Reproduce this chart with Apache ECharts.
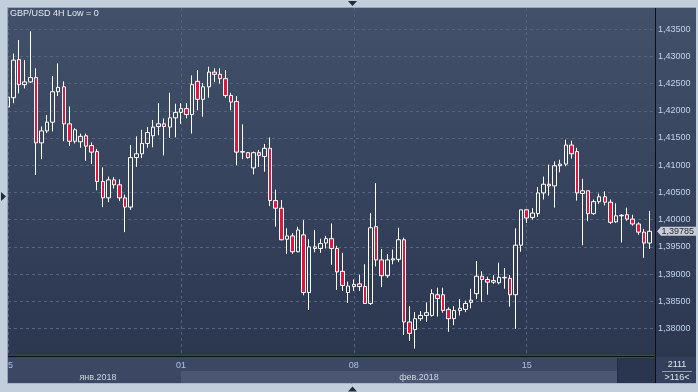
<!DOCTYPE html>
<html><head><meta charset="utf-8">
<script src="https://cdn.jsdelivr.net/npm/echarts@6/dist/echarts.min.js"></script>
<style>html,body{margin:0;padding:0;background:#c3cedc}#c{width:698px;height:392px}</style>
</head><body><div id="c"></div>
<script>
const chartTitle = 'GBP/USD 4H Low = 0';
const open = [1.4207,1.4224,1.4294,1.4248,1.4253,1.4261,1.4141,1.4163,1.4179,1.4235,
1.4244,1.4176,1.4144,1.4143,1.4154,1.4136,1.4125,1.4070,1.4040,1.4073,
1.4064,1.4040,1.4023,1.4114,1.4121,1.4140,1.4154,1.4171,1.4176,1.4170,
1.4187,1.4197,1.4204,1.4193,1.4254,1.4221,1.4244,1.4271,1.4267,1.4259,
1.4228,1.4217,1.4124,1.4123,1.4095,1.4123,1.4116,1.4131,1.4035,1.4021,
1.3964,1.3970,1.3941,1.3972,1.3866,1.3947,1.3947,1.3957,1.3965,1.3947,
1.3905,1.3866,1.3877,1.3882,1.3877,1.3846,1.3987,1.3926,1.3897,1.3926,
1.3927,1.3963,1.3812,1.3798,1.3818,1.3824,1.3824,1.3862,1.3862,1.3835,
1.3818,1.3833,1.3835,1.3848,1.3864,1.3896,1.3890,1.3885,1.3884,1.3893,
1.3892,1.3862,1.3953,1.4018,1.4004,1.4011,1.4049,1.4065,1.4062,1.4099,
1.4102,1.4137,1.4125,1.4048,1.4053,1.4011,1.4033,1.4042,1.4032,1.3996,
1.4007,1.4009,1.4001,1.3992,1.3977,1.3957];
const close = [1.4225,1.4293,1.4248,1.4253,1.4261,1.4141,1.4163,1.4179,1.4235,1.4243,
1.4176,1.4144,1.4165,1.4153,1.4135,1.4124,1.4070,1.4040,1.4073,1.4064,
1.4040,1.4023,1.4114,1.4121,1.4140,1.4160,1.4170,1.4176,1.4171,1.4187,
1.4197,1.4204,1.4193,1.4248,1.4221,1.4244,1.4271,1.4267,1.4259,1.4228,
1.4216,1.4124,1.4125,1.4114,1.4123,1.4118,1.4131,1.4035,1.4021,1.3963,
1.3970,1.3941,1.3981,1.3866,1.3950,1.3950,1.3956,1.3965,1.3947,1.3904,
1.3879,1.3878,1.3881,1.3877,1.3846,1.3985,1.3926,1.3897,1.3926,1.3928,
1.3963,1.3812,1.3791,1.3818,1.3824,1.3829,1.3864,1.3855,1.3833,1.3818,
1.3833,1.3837,1.3846,1.3852,1.3896,1.3890,1.3885,1.3888,1.3894,1.3894,
1.3862,1.3953,1.4018,1.4003,1.4012,1.4049,1.4065,1.4062,1.4099,1.4102,
1.4137,1.4121,1.4049,1.4053,1.4011,1.4033,1.4042,1.4032,1.3995,1.4007,
1.4008,1.4001,1.3992,1.3977,1.3957,1.39785];
const low = [1.4204,1.4214,1.4232,1.4241,1.4251,1.4082,1.4111,1.4159,1.4162,1.4227,
1.4144,1.4135,1.4140,1.4132,1.4108,1.4102,1.4054,1.4023,1.4032,1.4057,
1.4034,1.3977,1.4018,1.4097,1.4113,1.4132,1.4133,1.4155,1.4118,1.4150,
1.4151,1.4176,1.4186,1.4158,1.4201,1.4189,1.4224,1.4253,1.4250,1.4224,
1.4201,1.4100,1.4111,1.4112,1.4083,1.4097,1.4088,1.4025,1.3987,1.3962,
1.3937,1.3937,1.3940,1.3861,1.3834,1.3940,1.3939,1.3947,1.3917,1.3871,
1.3869,1.3847,1.3869,1.3869,1.3845,1.3843,1.3914,1.3876,1.3893,1.3918,
1.3922,1.3788,1.3777,1.3763,1.3814,1.3812,1.3822,1.3822,1.3829,1.3794,
1.3806,1.3824,1.3830,1.3837,1.3854,1.3849,1.3862,1.3882,1.3881,1.3873,
1.3840,1.3799,1.3941,1.3994,1.4000,1.4005,1.4037,1.4044,1.4022,1.4087,
1.4098,1.4112,1.4035,1.3953,1.3997,1.4009,1.4029,1.4026,1.3992,1.3994,
1.3958,1.3998,1.3989,1.3972,1.3930,1.3946];
const high = [1.4227,1.4305,1.4330,1.4293,1.4346,1.4278,1.4171,1.4192,1.4264,1.4287,
1.4254,1.4208,1.4168,1.4158,1.4158,1.4142,1.4130,1.4096,1.4079,1.4078,
1.4074,1.4046,1.4137,1.4153,1.4165,1.4170,1.4183,1.4214,1.4186,1.4233,
1.4213,1.4214,1.4214,1.4265,1.4275,1.4251,1.4281,1.4278,1.4278,1.4275,
1.4233,1.4227,1.4175,1.4124,1.4125,1.4128,1.4139,1.4151,1.4055,1.4036,
1.3984,1.3975,1.3987,1.3999,1.3964,1.3981,1.3965,1.3970,1.3993,1.3952,
1.3939,1.3886,1.3890,1.3899,1.3918,1.4012,1.4067,1.3946,1.3937,1.3945,
1.3985,1.3967,1.3841,1.3830,1.3832,1.3848,1.3872,1.3875,1.3875,1.3839,
1.3841,1.3854,1.3851,1.3873,1.3924,1.3905,1.3895,1.3898,1.3921,1.3911,
1.3898,1.3984,1.4018,1.4019,1.4021,1.4060,1.4079,1.4101,1.4107,1.4110,
1.4147,1.4145,1.4132,1.4075,1.4053,1.4037,1.4048,1.4052,1.4037,1.4030,
1.4010,1.4022,1.4009,1.3995,1.3983,1.4016];
// x tick labels (bar index -> label); one empty slot after the last bar
const tickLabels = {0: '25', 31: '01', 62: '08', 93: '15'};
const monthLabels = ['янв.2018', 'фев.2018'];
const cornerLabels = ['2111', '>116<'];

const categories = open.map((_, i) => String(i)).concat(['']);
const ohlc = open.map((o, i) => [o, close[i], low[i], high[i]]);
const fmt = v => v.toFixed(5).replace('.', ',');
const FONT = '"Liberation Sans", Arial, sans-serif';

const chart = echarts.init(document.getElementById('c'), null, {renderer: 'canvas'});
chart.setOption({
  animation: false,
  backgroundColor: {type: 'linear', x: 0, y: 0, x2: 0, y2: 1,
    colorStops: [{offset: 0, color: '#43516b'}, {offset: 1, color: '#29344d'}]},
  textStyle: {fontFamily: FONT},
  grid: {left: 8, right: 43, top: 1.9, bottom: 36.3, containLabel: false},
  xAxis: [{
    type: 'category', data: categories, boundaryGap: false, z: 1,
    axisLine: {show: false}, axisTick: {show: false}, axisLabel: {show: false},
    splitLine: {show: true, interval: (i) => (i in tickLabels),
      lineStyle: {color: '#56647f', width: 1, type: [3, 3]}}
  }, {
    type: 'category', data: categories, boundaryGap: false, position: 'bottom', z: 50,
    axisLine: {show: false}, axisTick: {show: false}, splitLine: {show: false},
    axisLabel: {interval: (i) => (i in tickLabels), formatter: (v, i) => tickLabels[i] || '',
      color: '#a9c4ea', fontSize: 9, fontFamily: FONT, margin: 5}
  }],
  yAxis: {
    type: 'value', position: 'right', min: 1.375, max: 1.440, interval: 0.005, z: 1,
    axisLine: {show: false}, axisTick: {show: false},
    axisLabel: {margin: 3, color: '#c3d3ec', fontSize: 9, fontFamily: FONT,
      showMinLabel: false, showMaxLabel: false, formatter: fmt},
    splitLine: {show: true, lineStyle: {color: '#56647f', width: 1, type: [3, 3]}}
  },
  series: [{
    type: 'candlestick', data: ohlc, barWidth: 4, z: 2,
    itemStyle: {color: 'rgba(0,0,0,0)', color0: '#e2163d', borderColor: '#ffffff',
      borderColor0: '#ffffff', borderColorDoji: '#ffffff', borderWidth: 1}
  }]
});

const last = close[close.length - 1];
const py = chart.convertToPixel({yAxisIndex: 0}, last);
const FR = '#c3cedc';
const G = [
  {type: 'rect', z: 40, shape: {x: 8, y: 355, width: 648, height: 16}, style: {fill: '#3b4763'}},
  {type: 'rect', z: 40, shape: {x: 8, y: 371, width: 173, height: 12}, style: {fill: '#3b4763'}},
  {type: 'rect', z: 40, shape: {x: 181, y: 371, width: 436, height: 12}, style: {fill: '#4a5672'}},
  {type: 'rect', z: 41, shape: {x: 618, y: 358, width: 37, height: 25}, style: {fill: '#2a3550'}},
  {type: 'line', z: 41, shape: {x1: 617.5, y1: 358, x2: 617.5, y2: 383}, style: {stroke: '#222c40', lineWidth: 1}},
  {type: 'rect', z: 40, shape: {x: 656, y: 357, width: 40, height: 26}, style: {fill: '#34405b'}},
  {type: 'line', z: 45, shape: {x1: 8, y1: 356.5, x2: 656, y2: 356.5}, style: {stroke: '#0b1018', lineWidth: 1}},
  {type: 'line', z: 45, shape: {x1: 655.5, y1: 8, x2: 655.5, y2: 383}, style: {stroke: '#0b1018', lineWidth: 1}},
  {type: 'line', z: 45, shape: {x1: 662, y1: 371.5, x2: 692, y2: 371.5}, style: {stroke: '#8d9ab0', lineWidth: 1}},
  {type: 'rect', z: 100, shape: {x: 0, y: 0, width: 698, height: 7}, style: {fill: FR}},
  {type: 'rect', z: 100, shape: {x: 0, y: 0, width: 7, height: 392}, style: {fill: FR}},
  {type: 'rect', z: 100, shape: {x: 0, y: 384, width: 698, height: 8}, style: {fill: FR}},
  {type: 'rect', z: 100, shape: {x: 696, y: 0, width: 2, height: 392}, style: {fill: FR}},
  {type: 'line', z: 100, shape: {x1: 7, y1: 7.5, x2: 696, y2: 7.5}, style: {stroke: '#98a5b9', lineWidth: 1}},
  {type: 'line', z: 100, shape: {x1: 7.5, y1: 7, x2: 7.5, y2: 384}, style: {stroke: '#98a5b9', lineWidth: 1}},
  {type: 'line', z: 100, shape: {x1: 7, y1: 383.5, x2: 696, y2: 383.5}, style: {stroke: '#aab6c8', lineWidth: 1}},
  {type: 'polygon', z: 101, shape: {points: [[348, 1], [357, 1], [352.5, 6]]}, style: {fill: '#1f2a3b'}},
  {type: 'polygon', z: 101, shape: {points: [[1, 192], [1, 201], [6, 196.5]]}, style: {fill: '#1f2a3b'}},
  {type: 'polygon', z: 101, shape: {points: [[348, 391.5], [357, 391.5], [352.5, 386.5]]}, style: {fill: '#1f2a3b'}},
  {type: 'text', z: 102, x: 10, y: 14, style: {text: chartTitle, fill: '#e4eaf3', font: '9px ' + FONT, textAlign: 'left', textVerticalAlign: 'middle'}},
  {type: 'text', z: 102, x: 98, y: 377.5, style: {text: monthLabels[0], fill: '#cdd6e3', font: '9px ' + FONT, textAlign: 'center', textVerticalAlign: 'middle'}},
  {type: 'text', z: 102, x: 419, y: 377.5, style: {text: monthLabels[1], fill: '#cdd6e3', font: '9px ' + FONT, textAlign: 'center', textVerticalAlign: 'middle'}},
  {type: 'text', z: 102, x: 677, y: 365, style: {text: cornerLabels[0], fill: '#dfe6ef', font: '9px ' + FONT, textAlign: 'center', textVerticalAlign: 'middle'}},
  {type: 'text', z: 102, x: 677, y: 377.5, style: {text: cornerLabels[1], fill: '#dfe6ef', font: '9px ' + FONT, textAlign: 'center', textVerticalAlign: 'middle'}},
  {type: 'polygon', z: 60, shape: {points: [[657, py], [661, py - 4.5], [696, py - 4.5], [696, py + 4.5], [661, py + 4.5]]}, style: {fill: '#c9ced6'}},
  {type: 'text', z: 61, x: 661.5, y: py, style: {text: fmt(last), fill: '#1a2232', font: '9px ' + FONT, textAlign: 'left', textVerticalAlign: 'middle'}}
];
chart.setOption({graphic: G});
</script></body></html>
